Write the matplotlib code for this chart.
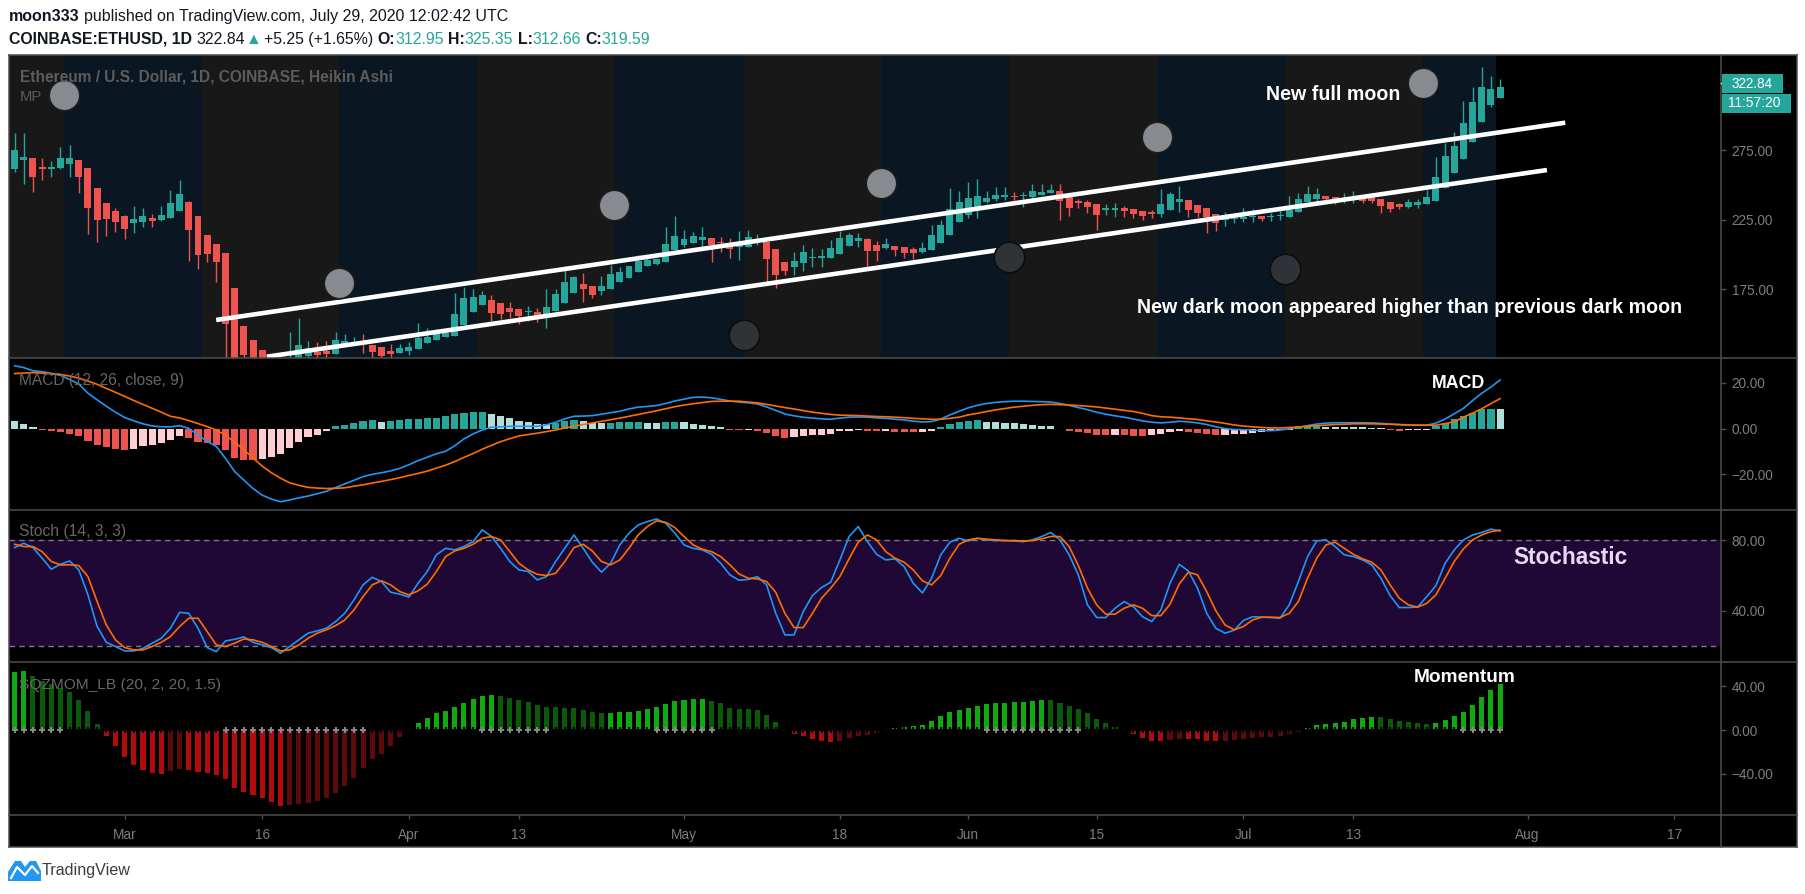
import matplotlib
matplotlib.use('Agg')
import matplotlib.pyplot as plt
import numpy as np
import pandas as pd
from matplotlib.patches import Rectangle, Polygon
from matplotlib.lines import Line2D

plt.rcParams['font.family'] = ['Liberation Sans', 'DejaVu Sans']

W, H, DPI = 1805, 894, 100

# ---------------- data ----------------
START = '2020-02-18'

HA_OPEN = [261.3, 268.1, 269.2, 262.8, 261.3, 262.1, 265.2, 267.8, 262.1, 247.7,
           236.9, 231.2, 227.6, 222.8, 223.5, 226.2, 224.7, 226.4, 231.4, 237.7,
           227.6, 213.9, 207.5, 201.0, 175.9, 148.6, 138.5, 131.3, 127.0, 121.0,
           118.0, 121.0, 127.0, 129.6, 130.6, 128.5, 134.4, 134.9, 137.3, 134.9,
           133.2, 130.6, 129.4, 130.6, 132.0, 136.6, 138.5, 140.9, 141.6, 149.3,
           158.8, 163.6, 167.2, 164.8, 161.2, 160.5, 158.4, 158.4, 156.5, 159.6,
           165.3, 172.5, 178.7, 177.3, 174.0, 175.4, 180.4, 183.4, 187.6, 191.9,
           193.1, 194.8, 203.2, 206.8, 208.4, 210.3, 211.5, 209.1, 207.9, 205.6,
           205.6, 209.0, 209.1, 203.6, 194.3, 191.2, 193.6, 197.2, 197.7, 197.7,
           200.3, 206.0, 209.9, 211.1, 206.8, 204.8, 206.0, 205.6, 203.9, 202.0,
           203.2, 208.4, 213.9, 223.5, 228.3, 234.3, 237.9, 239.6, 241.0, 242.0,
           241.8, 241.5, 242.7, 243.9, 245.5, 241.0, 238.6, 237.9, 236.2, 231.9,
           231.9, 233.1, 232.6, 231.2, 230.2, 229.0, 231.9, 237.9, 239.1, 235.5,
           233.1, 229.0, 224.7, 225.6, 225.4, 226.8, 227.6, 226.8, 227.4, 227.1,
           230.7, 237.4, 239.6, 242.0, 241.0, 239.6, 240.0, 240.3, 241.0, 239.6,
           237.7, 236.0, 234.3, 235.5, 236.2, 238.6, 247.5, 258.7, 268.3, 281.0,
           295.4, 307.3, 312.6]
HA_CLOSE = [275.0, 270.0, 255.8, 261.3, 262.8, 269.2, 269.2, 255.8, 233.6, 225.0,
            225.7, 223.5, 218.5, 225.4, 227.6, 224.2, 228.3, 236.9, 243.4, 217.8,
            199.8, 200.5, 194.8, 150.2, 118.0, 127.7, 121.0, 122.5, 120.0, 122.0,
            124.0, 134.9, 132.5, 127.7, 128.5, 138.5, 137.8, 137.3, 136.1, 130.1,
            127.0, 128.2, 132.5, 133.7, 140.2, 140.9, 144.5, 143.3, 157.2, 168.9,
            169.6, 170.8, 157.7, 157.2, 158.8, 156.0, 159.2, 155.3, 162.5, 171.6,
            180.2, 184.0, 175.4, 170.8, 177.3, 185.9, 187.2, 191.7, 195.5, 196.0,
            196.4, 207.2, 213.2, 211.1, 213.2, 212.2, 206.8, 207.9, 203.6, 209.1,
            212.2, 210.0, 197.0, 185.2, 188.3, 195.3, 201.5, 198.4, 198.1, 204.4,
            211.5, 213.9, 212.0, 202.7, 202.7, 207.4, 203.2, 201.3, 200.8, 204.8,
            213.9, 221.1, 232.4, 237.9, 240.8, 242.0, 240.8, 242.7, 242.7, 241.0,
            242.0, 245.5, 245.1, 246.3, 238.6, 233.6, 237.2, 234.3, 228.3, 233.1,
            233.1, 231.4, 229.0, 227.8, 228.8, 236.2, 243.4, 239.8, 231.9, 230.0,
            226.6, 222.8, 225.9, 226.0, 227.1, 227.2, 225.4, 227.4, 227.8, 231.9,
            239.6, 243.4, 243.4, 239.6, 239.1, 240.3, 240.5, 238.6, 238.6, 235.0,
            232.6, 234.3, 237.4, 237.4, 241.5, 255.8, 270.7, 277.9, 294.6, 309.7,
            320.5, 318.8, 320.5]
HA_HIGH = [287.0, 287.0, 269.2, 269.0, 267.1, 277.2, 278.6, 267.8, 262.1, 247.7,
           236.9, 233.1, 228.3, 234.8, 233.3, 229.0, 234.8, 246.3, 253.4, 238.4,
           227.6, 213.9, 207.5, 201.0, 175.9, 148.6, 138.5, 131.3, 127.0, 124.0,
           144.3, 154.5, 137.8, 137.3, 137.8, 144.3, 143.0, 140.9, 143.0, 134.9,
           133.2, 135.6, 135.6, 137.3, 151.0, 146.9, 146.4, 143.5, 172.0, 176.8,
           175.1, 173.7, 170.8, 164.8, 165.6, 160.5, 163.2, 161.2, 175.1, 175.1,
           191.7, 184.3, 186.4, 177.3, 184.5, 192.4, 190.7, 192.0, 199.6, 198.4,
           196.6, 219.5, 227.6, 217.5, 216.3, 219.5, 211.5, 212.2, 211.5, 217.0,
           217.5, 214.6, 209.1, 203.6, 194.3, 202.0, 206.8, 204.4, 203.6, 210.3,
           216.8, 215.6, 215.6, 211.6, 209.9, 211.5, 206.0, 205.6, 205.1, 209.1,
           221.1, 224.7, 247.5, 245.5, 251.8, 254.2, 245.5, 248.2, 248.7, 244.6,
           244.6, 250.6, 250.6, 250.6, 250.6, 241.0, 239.6, 239.1, 236.2, 236.2,
           236.7, 234.8, 232.6, 231.2, 231.9, 246.7, 245.1, 249.1, 239.1, 235.5,
           233.1, 229.0, 230.7, 229.5, 233.1, 232.4, 227.6, 230.0, 233.1, 242.2,
           244.4, 249.1, 247.5, 242.0, 241.0, 244.4, 245.5, 240.3, 241.0, 239.6,
           237.7, 237.2, 239.8, 239.8, 246.3, 270.2, 280.3, 288.2, 310.4, 320.5,
           334.9, 328.2, 326.0]
HA_LOW = [259.4, 250.3, 245.1, 253.5, 255.8, 261.3, 255.8, 244.3, 214.9, 209.1,
          213.5, 216.3, 211.3, 215.6, 219.9, 219.9, 224.2, 226.4, 231.4, 195.5,
          189.7, 194.8, 180.4, 110.0, 90.0, 100.0, 110.0, 112.0, 112.0, 114.0,
          115.0, 119.0, 124.0, 124.0, 124.0, 128.5, 134.4, 134.9, 129.4, 124.0,
          124.0, 124.0, 129.4, 127.7, 132.0, 136.6, 138.5, 140.5, 141.6, 149.3,
          158.8, 163.6, 151.0, 153.6, 154.1, 149.8, 152.2, 151.7, 147.4, 159.6,
          165.3, 172.5, 166.0, 168.4, 171.0, 175.4, 180.4, 183.4, 187.6, 191.9,
          192.5, 194.8, 203.2, 205.6, 208.4, 205.6, 194.8, 202.0, 197.6, 196.0,
          205.6, 207.0, 179.7, 176.1, 185.2, 185.2, 188.3, 191.2, 191.2, 197.7,
          200.3, 206.0, 205.1, 190.7, 195.5, 203.9, 199.1, 197.6, 196.4, 201.0,
          203.2, 208.4, 213.9, 223.5, 225.9, 225.9, 236.7, 238.4, 239.1, 239.1,
          234.3, 239.1, 242.7, 243.9, 224.7, 227.6, 233.6, 229.5, 217.5, 228.3,
          227.1, 227.1, 226.4, 224.7, 226.4, 227.1, 231.9, 230.7, 226.6, 226.6,
          215.1, 217.0, 220.6, 222.8, 223.5, 223.1, 224.2, 224.2, 224.7, 227.1,
          230.7, 237.4, 237.9, 237.9, 236.2, 236.7, 236.7, 236.7, 236.7, 229.5,
          230.7, 232.4, 233.1, 233.6, 236.2, 238.6, 247.5, 258.7, 268.3, 281.0,
          295.4, 306.1, 312.6]

MACD_LINE = [27.5, 26.7, 25.3, 24.9, 24.2, 23.3, 21.5, 19.5, 15.5, 12.6,
             9.8, 7.2, 4.9, 3.4, 2.1, 1.2, 0.8, 0.8, 1.3, 0.1,
             -2.8, -5.6, -7.8, -13.0, -18.8, -22.5, -26.2, -29.1, -30.8, -32.0,
             -31.2, -30.3, -29.5, -28.5, -27.4, -25.8, -24.2, -22.6, -21.0, -20.0,
             -19.3, -18.5, -17.4, -15.8, -14.0, -12.5, -11.0, -9.9, -7.5, -4.5,
             -2.3, -0.6, 0.6, 0.8, 1.0, 1.0, 1.0, 1.0, 1.7, 2.8,
             4.3, 5.4, 5.5, 5.7, 6.3, 7.0, 7.6, 8.6, 9.4, 9.7,
             10.1, 11.0, 12.1, 12.9, 13.7, 13.8, 13.5, 12.8, 12.1, 11.6,
             11.3, 10.8, 9.5, 8.0, 6.4, 5.6, 5.0, 4.6, 4.3, 4.1,
             4.6, 5.0, 5.1, 5.0, 4.7, 4.5, 4.1, 3.8, 3.3, 2.9,
             3.1, 4.2, 6.0, 7.6, 9.1, 10.2, 11.0, 11.5, 11.8, 12.0,
             12.0, 11.9, 11.8, 11.6, 11.0, 10.2, 9.2, 8.3, 7.2, 6.3,
             5.6, 5.0, 4.2, 3.4, 2.8, 2.5, 2.8, 3.2, 3.0, 2.5,
             1.8, 0.8, 0.0, -0.4, -0.5, -0.7, -0.8, -0.9, -0.6, -0.1,
             0.6, 1.3, 2.0, 2.4, 2.6, 2.6, 2.6, 2.6, 2.5, 2.3,
             2.0, 1.7, 1.5, 1.5, 1.5, 2.4, 4.2, 6.5, 8.9, 12.3,
             15.5, 18.2, 21.3]
MACD_SIGNAL = [24.1, 24.3, 24.5, 24.3, 24.0, 23.7, 23.0, 22.1, 20.8, 19.4,
               17.6, 15.9, 14.1, 12.3, 10.6, 8.9, 7.2, 5.4, 4.7, 3.5,
               2.2, 0.9, -0.6, -2.9, -6.0, -9.2, -12.9, -16.4, -19.3, -21.7,
               -23.7, -24.8, -25.7, -26.0, -26.2, -26.1, -25.9, -25.2, -24.6, -23.8,
               -23.1, -22.3, -21.5, -20.5, -19.6, -18.6, -17.3, -16.0, -14.4, -12.6,
               -10.9, -9.0, -7.3, -5.7, -4.4, -3.2, -2.6, -2.0, -1.3, -0.6,
               0.3, 1.0, 1.8, 2.5, 3.2, 3.9, 4.6, 5.4, 6.2, 7.0,
               7.8, 8.7, 9.6, 10.3, 10.9, 11.4, 11.9, 12.0, 12.0, 12.0,
               11.6, 11.3, 10.6, 9.9, 9.2, 8.6, 7.9, 7.2, 6.7, 6.2,
               5.9, 5.8, 5.7, 5.5, 5.3, 5.2, 5.0, 4.8, 4.5, 4.3,
               4.1, 4.1, 4.5, 5.0, 6.0, 6.7, 7.5, 8.2, 8.8, 9.4,
               9.8, 10.2, 10.5, 10.6, 10.5, 10.3, 10.1, 9.8, 9.5, 9.0,
               8.5, 8.0, 7.5, 6.7, 5.7, 5.2, 5.0, 4.7, 4.3, 4.0,
               3.4, 2.9, 2.3, 1.6, 1.1, 0.8, 0.5, 0.3, 0.3, 0.5,
               0.7, 1.0, 1.3, 1.5, 1.8, 1.9, 2.1, 2.1, 2.1, 2.0,
               1.9, 1.8, 1.6, 1.5, 1.5, 1.5, 2.2, 3.0, 5.0, 6.8,
               8.7, 11.0, 13.1]
MACD_HIST = [3.5, 2.2, 0.6, -0.4, -1.2, -1.6, -2.2, -3.4, -5.6, -7.0,
             -8.2, -8.8, -9.3, -8.8, -7.8, -7.0, -6.3, -4.8, -3.4, -4.1,
             -5.9, -6.2, -7.0, -9.3, -12.9, -13.7, -13.8, -13.2, -12.2, -11.2,
             -8.5, -6.0, -3.8, -2.6, -1.2, 1.0, 1.8, 2.5, 3.5, 3.6,
             2.8, 3.2, 3.7, 4.0, 4.4, 4.7, 4.75, 5.4, 6.2, 6.9,
             7.3, 7.4, 6.5, 5.4, 4.7, 3.5, 2.8, 2.1, 2.0, 2.5,
             3.5, 3.7, 3.2, 2.5, 2.4, 2.5, 2.8, 2.85, 2.9, 2.5,
             2.4, 2.9, 2.95, 2.8, 2.2, 1.8, 1.3, 0.7, -0.4, -0.7,
             -0.6, -0.9, -2.1, -3.4, -4.1, -3.7, -3.4, -2.9, -2.6, -2.5,
             -1.2, -0.9, -0.6, -0.9, -1.2, -1.1, -1.5, -1.6, -1.65, -1.5,
             -0.9, 0.6, 2.1, 2.8, 3.2, 3.7, 3.1, 3.05, 2.6, 2.3,
             1.9, 1.5, 1.0, 0.95, -0.3, -1.2, -1.5, -1.9, -2.9, -3.0,
             -2.9, -3.0, -3.05, -3.1, -2.9, -2.3, -1.5, -1.2, -1.5, -1.9,
             -2.3, -2.7, -2.6, -2.55, -2.2, -1.8, -1.5, -1.2, -0.7, -0.4,
             1.0, 1.3, 1.35, 0.9, 0.85, 0.8, 0.78, 0.75, 0.4, 0.1,
             -0.6, -1.2, -0.7, -0.6, -0.5, 1.0, 2.5, 4.4, 5.4, 6.9,
             8.6, 8.8, 8.4]

STOCH_K = [75.8, 78.3, 75.8, 69.8, 63.5, 66.3, 68.2, 63.1, 48.9, 30.9,
           21.9, 19.5, 17.0, 17.0, 18.5, 21.4, 24.2, 29.9, 39.0, 38.4,
           29.9, 18.9, 16.6, 22.7, 23.6, 25.0, 21.9, 20.4, 18.9, 15.7,
           19.5, 23.3, 27.1, 28.4, 29.9, 33.7, 38.4, 46.0, 54.6, 58.9,
           56.5, 50.4, 49.3, 47.7, 55.5, 62.2, 71.7, 75.4, 74.5, 76.4,
           79.2, 85.9, 82.1, 75.4, 67.9, 63.1, 62.2, 57.4, 59.3, 67.9,
           75.4, 83.0, 75.4, 67.5, 61.8, 66.9, 77.3, 84.0, 88.7, 90.6,
           92.1, 89.7, 84.0, 77.3, 75.4, 74.5, 72.0, 66.9, 60.3, 57.2,
           57.7, 59.3, 54.6, 38.4, 26.1, 26.1, 39.4, 48.5, 53.1, 56.1,
           68.8, 82.1, 87.8, 79.2, 72.0, 68.8, 69.4, 65.0, 55.5, 50.0,
           58.4, 71.7, 78.9, 81.1, 79.6, 81.1, 80.2, 79.8, 79.8, 79.6,
           79.2, 80.2, 82.1, 84.4, 80.2, 71.7, 60.3, 43.2, 36.0, 36.0,
           41.3, 45.1, 42.2, 36.5, 33.7, 40.3, 55.5, 66.3, 62.5, 52.7,
           38.4, 29.9, 27.1, 28.8, 34.3, 36.5, 36.2, 36.0, 35.6, 43.2,
           56.5, 70.7, 79.6, 80.2, 76.4, 71.7, 70.7, 68.8, 66.0, 58.4,
           48.5, 41.7, 41.7, 42.0, 47.9, 54.2, 66.9, 74.5, 80.2, 83.0,
           84.4, 86.3, 85.3]
STOCH_D = [77.7, 76.4, 76.4, 73.5, 67.9, 66.0, 66.0, 65.6, 59.3, 45.1,
           31.8, 23.3, 18.9, 17.6, 17.6, 19.5, 21.9, 25.2, 30.9, 35.6,
           35.6, 28.0, 20.4, 19.5, 21.4, 23.8, 23.3, 21.9, 19.5, 17.0,
           17.6, 20.4, 24.2, 27.1, 29.0, 31.4, 34.6, 40.3, 47.9, 54.6,
           56.9, 54.6, 50.8, 48.9, 51.2, 55.0, 62.2, 70.7, 73.9, 75.4,
           77.7, 81.1, 82.1, 80.2, 73.5, 66.9, 63.1, 60.6, 59.9, 61.2,
           67.9, 75.8, 77.7, 73.9, 67.9, 66.0, 68.8, 75.4, 83.0, 87.8,
           91.0, 90.2, 87.2, 82.1, 77.3, 74.9, 73.5, 70.7, 66.0, 60.8,
           58.4, 58.0, 56.5, 50.4, 38.4, 30.3, 30.3, 38.4, 47.0, 52.7,
           59.3, 69.4, 78.9, 83.0, 80.2, 73.5, 69.8, 67.5, 63.1, 56.9,
           54.6, 59.9, 69.8, 77.7, 80.2, 81.1, 80.6, 80.2, 79.8, 79.8,
           79.6, 79.8, 80.8, 82.1, 82.1, 76.4, 65.6, 52.7, 43.2, 37.9,
           37.9, 41.3, 43.2, 41.3, 37.1, 37.1, 43.6, 55.0, 61.8, 60.3,
           50.8, 39.8, 31.8, 29.0, 30.9, 34.6, 36.2, 36.2, 36.0, 38.4,
           45.1, 58.4, 69.8, 77.3, 78.9, 75.4, 72.0, 69.4, 67.5, 63.1,
           54.6, 47.0, 43.2, 41.9, 44.1, 48.9, 58.4, 67.9, 75.1, 80.2,
           83.0, 84.9, 85.7]

SQZ_MOM = [53.5, 54.1, 49.5, 45.3, 42.2, 38.2, 35.2, 27.5, 17.4, 5.5,
           -5.5, -14.4, -24.5, -32.1, -36.7, -39.8, -40.4, -37.3, -35.8, -36.7,
           -38.2, -39.8, -41.3, -45.0, -52.9, -56.6, -59.6, -62.1, -65.7, -69.4,
           -69.0, -67.9, -66.7, -64.8, -62.1, -57.5, -51.4, -43.7, -34.6, -26.9,
           -22.0, -14.4, -6.1, 0.9, 6.7, 11.3, 15.9, 17.4, 21.4, 25.1,
           28.4, 31.2, 32.1, 31.2, 29.1, 27.5, 25.4, 22.9, 21.1, 21.0,
           20.2, 20.1, 18.3, 16.8, 15.9, 16.0, 16.2, 16.8, 17.7, 19.6,
           21.4, 24.2, 26.6, 27.5, 28.4, 28.5, 26.9, 25.1, 20.5, 19.6,
           19.2, 18.3, 13.8, 7.3, 0.9, -3.7, -5.5, -8.3, -10.1, -10.7,
           -10.1, -7.6, -5.5, -4.6, -3.1, 0.9, 2.1, 3.1, 3.7, 4.6,
           8.3, 12.8, 16.8, 18.3, 20.5, 22.3, 24.2, 25.1, 25.2, 25.3,
           26.0, 26.6, 27.5, 27.4, 25.1, 22.0, 19.3, 15.9, 10.1, 6.7,
           3.1, -0.9, -4.0, -7.0, -10.1, -10.2, -9.2, -8.3, -8.4, -8.5,
           -10.1, -10.2, -10.1, -9.2, -8.3, -7.0, -6.7, -6.1, -5.2, -3.7,
           -1.8, 1.8, 4.3, 5.5, 6.4, 7.3, 10.1, 11.0, 11.9, 11.8,
           10.1, 8.3, 7.3, 6.4, 5.5, 6.4, 9.2, 12.8, 16.5, 22.9,
           30.3, 36.7, 42.2]
SQZ_GRAY_RANGES = [(0, 5), (23, 38), (51, 58), (70, 76), (106, 116), (158, 162)]

# moon phases (days since START, fractional)
WANING_START = [-9.0, 20.4, 50.4, 79.5, 108.4, 138.5]
WAXING_START = [5.35, 35.35, 65.4, 94.45, 124.55, 153.55]
PHASE_END = 161.6
LIGHT_MOON_PRICE = [314.2, 179.2, 235.3, 251.1, 284.3, 323.1]
DARK_MOON_X = [79.5, 108.4, 138.5]
DARK_MOON_PRICE = [142.2, 198.3, 189.4]

TREND_UPPER_X = [21.98, 169.1]
TREND_UPPER_Y = [152.9, 294.6]
TREND_LOWER_X = [27.5, 167.1]
TREND_LOWER_Y = [126.5, 260.6]

TICK_DATES = ['2020-03-01', '2020-03-16', '2020-04-01', '2020-04-13', '2020-05-01', '2020-05-18',
              '2020-06-01', '2020-06-15', '2020-07-01', '2020-07-13', '2020-08-01', '2020-08-17']
TICK_LABELS = ['Mar', '16', 'Apr', '13', 'May', '18', 'Jun', '15', 'Jul', '13', 'Aug', '17']
PRICE_TICKS = [175, 225, 275]
MACD_TICKS = [-20, 0, 20]
STOCH_TICKS = [40, 80]
MOM_TICKS = [-40, 0, 40]

# ---------------- style ----------------
TEAL = '#26a69a'
RED = '#ef5350'
GRID = '#4e4e4e'
TXT_GREY = '#7d7d7d'
LABEL_GREY = '#5c5c5c'

dates = pd.date_range(START, periods=len(HA_CLOSE), freq='D')
x = np.array((dates - dates[0]).days, dtype=float)
tick_x = [(pd.Timestamp(d) - dates[0]).days for d in TICK_DATES]

fig = plt.figure(figsize=(W / DPI, H / DPI), dpi=DPI, facecolor='white')
renderer = fig.canvas.get_renderer()

def fx(px):
    return px / W

def fy(py):
    return 1 - py / H

def rect(x0, y0, x1, y1):
    return [fx(x0), fy(y1), (x1 - x0) / W, (y1 - y0) / H]

L, R = 8.5, 1720.5
XL = ((L - 14.6) / 9.17, (R - 14.6) / 9.17)

# black chart background
fig.add_artist(Rectangle((fx(8.5), fy(846.5)), (1797 - 8.5) / W, (846.5 - 55) / H,
                         transform=fig.transFigure, facecolor='black', edgecolor='none', zorder=-5))

def make_ax(y0, y1, ylim):
    ax = fig.add_axes(rect(L, y0, R, y1))
    ax.set_facecolor('black')
    ax.set_xlim(*XL)
    ax.set_ylim(*ylim)
    for sp in ax.spines.values():
        sp.set_visible(False)
    ax.yaxis.tick_right()
    ax.tick_params(axis='y', colors=GRID, labelcolor=TXT_GREY, length=3.6, width=1,
                   pad=4.5, labelsize=9.8, direction='out')
    ax.tick_params(axis='x', bottom=False, labelbottom=False)
    return ax

ax_p = make_ax(55, 358, (125.57, 343.25))
ax_m = make_ax(358, 510, (-35.6, 30.9))
ax_s = make_ax(510, 662, (10.7, 97.2))
ax_q = make_ax(662, 814.5, (-77.5, 62.4))

# ---------- price pane ----------
for ws, wx in zip(WANING_START, WAXING_START):
    ax_p.axvspan(ws, wx, color='#181818', lw=0, zorder=0)
for i, wx in enumerate(WAXING_START):
    end = WANING_START[i + 1] if i + 1 < len(WANING_START) else PHASE_END
    ax_p.axvspan(wx, end, color='#0a1722', lw=0, zorder=0)

o = np.array(HA_OPEN); c = np.array(HA_CLOSE); hi = np.array(HA_HIGH); lo = np.array(HA_LOW)
up = c >= o
cols = np.where(up, TEAL, RED)
ax_p.vlines(x, lo, hi, colors=cols, lw=1.0, zorder=2)
body_h = np.maximum(np.abs(c - o), 0.8)
ax_p.bar(x, body_h, bottom=np.minimum(o, c), width=0.76, color=cols, lw=0, zorder=3)

ax_p.plot(TREND_UPPER_X, TREND_UPPER_Y, color='white', lw=3.3, solid_capstyle='butt', zorder=4)
ax_p.plot(TREND_LOWER_X, TREND_LOWER_Y, color='white', lw=3.3, solid_capstyle='butt', zorder=4)

ax_p.plot(WAXING_START, LIGHT_MOON_PRICE, 'o', ms=22, markerfacecolor='#878a8e',
          markeredgecolor='#1c1c1c', markeredgewidth=1.2, zorder=5)
ax_p.plot(DARK_MOON_X, DARK_MOON_PRICE, 'o', ms=22, markerfacecolor='#2f3237',
          markeredgecolor='#0c0c0c', markeredgewidth=1.2, zorder=5)
ax_p.set_yticks(PRICE_TICKS, ['%.2f' % v for v in PRICE_TICKS])

# ---------- MACD ----------
hist = np.array(MACD_HIST)
prev = np.concatenate([[np.inf], hist[:-1]])
hcol = np.where(hist >= 0, np.where(hist > prev, TEAL, '#b2dfdb'),
                np.where(hist < prev, RED, '#ffcdd2'))
ax_m.bar(x, hist, width=0.78, color=hcol, lw=0, zorder=2)
ax_m.plot(x, MACD_LINE, color='#2196f3', lw=1.2, zorder=3)
ax_m.plot(x, MACD_SIGNAL, color='#ff6d00', lw=1.2, zorder=4)
ax_m.set_yticks(MACD_TICKS, [('%.2f' % v).replace('-', '\u2212') for v in MACD_TICKS])

# ---------- Stoch ----------
ax_s.axhspan(20, 80, color='#1f0736', lw=0, zorder=0)
for lvl in (20, 80):
    ax_s.axhline(lvl, color='#787b86', lw=1.0, ls=(0, (4, 3)), zorder=1)
ax_s.plot(x, STOCH_K, color='#2196f3', lw=1.2, zorder=3)
ax_s.plot(x, STOCH_D, color='#ff6d00', lw=1.2, zorder=4)
ax_s.set_yticks(STOCH_TICKS, ['%.2f' % v for v in STOCH_TICKS])

# ---------- Squeeze momentum ----------
mom = np.array(SQZ_MOM)
mprev = np.concatenate([[0.0], mom[:-1]])
mcol = np.where(mom > 0, np.where(mom > mprev, '#12a812', '#0a5a0a'),
                np.where(mom < mprev, '#b00c0c', '#5c0a0a'))
ax_q.bar(x, mom, width=0.55, color=mcol, lw=0, zorder=2)
gray = np.zeros(len(mom), dtype=bool)
for a, b in SQZ_GRAY_RANGES:
    gray[a:b + 1] = True
ax_q.plot(x[~gray], np.zeros((~gray).sum()), '+', color='#050505', ms=5, mew=1.4, zorder=3)
ax_q.plot(x[gray], np.zeros(gray.sum()), '+', color='#8a8a8a', ms=5, mew=1.4, zorder=3)
ax_q.set_yticks(MOM_TICKS, [('%.2f' % v).replace('-', '\u2212') for v in MOM_TICKS])
ax_q.tick_params(axis='x', bottom=True, labelbottom=True, colors=GRID, labelcolor=TXT_GREY,
                 length=2.9, width=1, pad=6.5, labelsize=9.8)
ax_q.set_xticks(tick_x, TICK_LABELS)

# ---------- frame lines ----------
def fline(x0, y0, x1, y1, color=GRID, lw=1.1):
    fig.add_artist(Line2D([fx(x0), fx(x1)], [fy(y0), fy(y1)], transform=fig.transFigure,
                          color=color, lw=lw, zorder=10))

fline(8.5, 55, 1797, 55)
fline(8.5, 846.5, 1797, 846.5)
fline(8.5, 55, 8.5, 846.5)
fline(1797, 55, 1797, 846.5)
fline(1720.5, 55, 1720.5, 846.5)
for yy in (358, 510, 662, 814.5):
    fline(8.5, yy, 1797, yy)

# ---------- text helpers ----------
def tw(t):
    return t.get_window_extent(renderer=renderer).width

def fit_text(px, py, s, width, ha='left', va='center', **kw):
    t = fig.text(fx(px), fy(py), s, ha=ha, va=va, fontsize=10, zorder=12, **kw)
    t.set_fontsize(10 * width / tw(t))
    return t

def runs(px, py, parts, total_width):
    def lay(size, keep):
        xx = px
        made = []
        sp = fig.text(0, 0, 'a a', fontsize=size)
        sp2 = fig.text(0, 0, 'aa', fontsize=size)
        space = tw(sp) - tw(sp2)
        sp.remove(); sp2.remove()
        for s, kw, gap in parts:
            t = fig.text(fx(xx), fy(py), s, ha='left', va='center', fontsize=size, zorder=12, **kw)
            made.append(t)
            xx += tw(t) + gap * space
        if not keep:
            for t in made:
                t.remove()
        return xx - px
    wbase = lay(10, False)
    lay(10 * total_width / wbase, True)

DARK = '#131722'
B = dict(color=DARK, fontweight='bold')
N = dict(color=DARK)
T = dict(color=TEAL)
runs(9, 16.7, [('moon333', B, 1), ('published on TradingView.com, July 29, 2020 12:02:42 UTC', N, 0)], 500)
runs(9, 39.3, [('COINBASE:ETHUSD, 1D', B, 1), ('322.84', N, 0.3), ('\u25b2', T, 0.5),
               ('+5.25 (+1.65%)', N, 1), ('O:', B, 0), ('312.95', T, 1), ('H:', B, 0),
               ('325.35', T, 1), ('L:', B, 0), ('312.66', T, 1), ('C:', B, 0), ('319.59', T, 0)], 643)

# pane titles
fit_text(19.5, 76.7, 'Ethereum / U.S. Dollar, 1D, COINBASE, Heikin Ashi', 375, color=LABEL_GREY, fontweight='bold')
fit_text(19.5, 96.7, 'MP', 22, color=LABEL_GREY)
fit_text(19.4, 380, 'MACD (12, 26, close, 9)', 166, color='#666666')
fit_text(19.4, 531.7, 'Stoch (14, 3, 3)', 107, color='#666666')
fit_text(19.4, 685, 'SQZMOM_LB (20, 2, 20, 1.5)', 202, color='#666666')

# annotations
fit_text(1266, 94.4, 'New full moon', 134, color='white', fontweight='bold')
fit_text(1137, 307, 'New dark moon appeared higher than previous dark moon', 545, color='white', fontweight='bold')
fit_text(1431.5, 383, 'MACD', 53, color='white', fontweight='bold')
fit_text(1513, 558, 'Stochastic', 114, color='#e6d9f2', fontweight='bold')
fit_text(1414, 678, 'Momentum', 102, color='white', fontweight='bold')

# price tags
fig.add_artist(Rectangle((fx(1721.7), fy(92.7)), (1782.7 - 1721.7) / W, (92.7 - 74) / H,
                         transform=fig.transFigure, facecolor=TEAL, edgecolor='none', zorder=11))
fig.add_artist(Rectangle((fx(1722), fy(112.7)), (1791 - 1722) / W, (112.7 - 94) / H,
                         transform=fig.transFigure, facecolor=TEAL, edgecolor='none', zorder=11))
fline(1721, 83.4, 1725, 83.4, color='white', lw=1)
fit_text(1752.5, 83.6, '322.84', 41.6, ha='center', color='white')
fit_text(1754.5, 103.4, '11:57:20', 52.6, ha='center', color='white')

# footer logo
fig.add_artist(Polygon([(fx(8), fy(881)), (fx(8), fy(872)), (fx(15), fy(861)), (fx(21), fy(861)),
                        (fx(25), fy(867)), (fx(30), fy(861)), (fx(36), fy(861)), (fx(41), fy(871)),
                        (fx(41), fy(881))], closed=True, transform=fig.transFigure,
                       facecolor='#2196f3', edgecolor='none', zorder=11))
fig.add_artist(Line2D([fx(11), fx(17), fx(25), fx(32), fx(38)], [fy(878), fy(867), fy(875), fy(866), fy(873)],
                      transform=fig.transFigure, color='white', lw=1.6, zorder=12))
fit_text(42, 870, 'TradingView', 89, color='#3d3d3d')

fig.savefig('out.png', dpi=DPI, facecolor='white')
